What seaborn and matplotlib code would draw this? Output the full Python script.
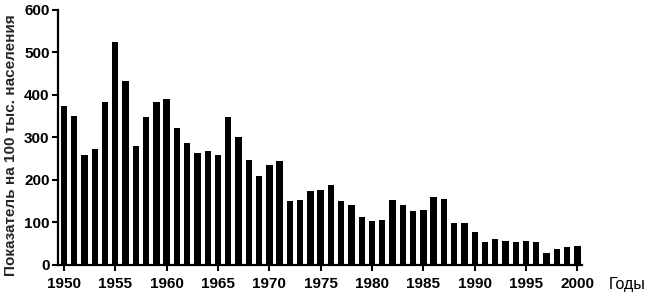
import matplotlib
matplotlib.use("Agg")
import matplotlib.pyplot as plt
import seaborn as sns
import pandas as pd

years = list(range(1950, 2001))
values = [375, 350, 258, 272, 384, 525, 432, 280, 349, 384,
          390, 323, 286, 263, 267, 258, 347, 302, 248, 209,
          235, 244, 150, 153, 175, 176, 187, 150, 140, 112,
          103, 105, 153, 140, 126, 130, 160, 156, 98, 98,
          77, 53, 60, 56, 53, 56, 53, 28, 37, 42, 44]
xticks = list(range(1950, 2001, 5))
yticks = list(range(0, 601, 100))
ylabel = "Показатель на 100 тыс. населения"
xlabel = "Годы"

sns.set_theme(style="ticks")
plt.rcParams['font.family'] = ['Liberation Sans', 'DejaVu Sans']

df = pd.DataFrame({"year": years, "value": values})

fig = plt.figure(figsize=(6.49, 3.0), dpi=100)
ax = fig.add_axes([0.0894, 0.117, 0.808, 0.85])
sns.barplot(data=df, x="year", y="value", native_scale=True, color="black",
            saturation=1, width=0.62, ax=ax, edgecolor="black", linewidth=0)

ax.set_xlim(1949.42, 2000.49)
ax.set_ylim(0, 600)
ax.set_xticks(xticks)
ax.set_xticklabels([str(t) for t in xticks], fontsize=11, fontweight="bold")
ax.set_yticks(yticks)
ax.set_yticklabels([str(t) for t in yticks], fontsize=11, fontweight="bold")
ax.set_xlabel("")
ax.set_ylabel(ylabel, fontsize=11, fontweight="bold")
ax.yaxis.set_label_coords(-0.077, 0.47)
sns.despine(ax=ax)
for s in ["left", "bottom"]:
    ax.spines[s].set_linewidth(1.6)
    ax.spines[s].set_color("black")
ax.tick_params(axis="both", length=4, width=1.5, color="black", labelcolor="black")
ax.tick_params(axis="x", pad=5)
ax.tick_params(axis="y", pad=2)
fig.text(0.966, 0.053, xlabel, fontsize=11.5, ha="center", va="center", color="black")

fig.savefig("out.png", dpi=100)
